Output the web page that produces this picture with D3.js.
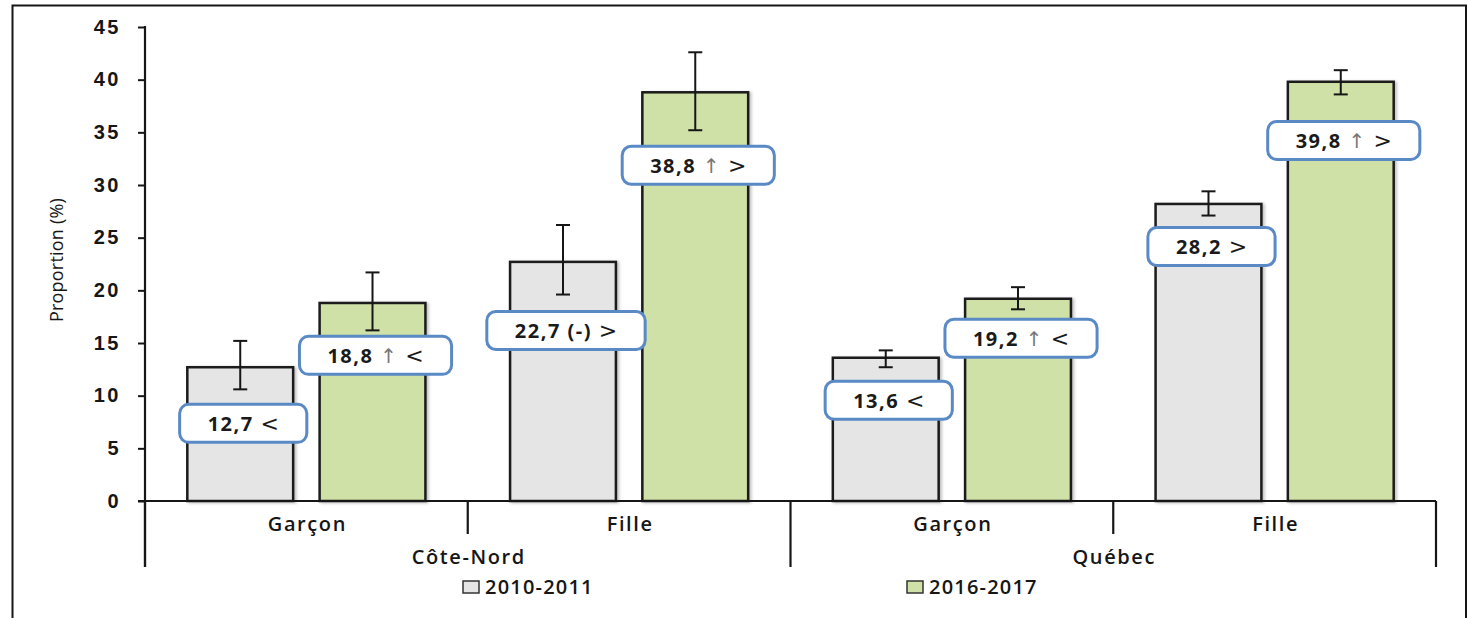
<!DOCTYPE html>
<html>
<head>
<meta charset="utf-8">
<script src="https://cdn.jsdelivr.net/npm/d3@7"></script>
<style>
  html, body { margin: 0; padding: 0; background: #fff; }
  svg { display: block; font-family: "Open Sans", Lato, sans-serif; }
</style>
</head>
<body>
<svg id="chart" width="1468" height="618"></svg>
<script>
// Regions, sexes and survey periods
const regions = ["Côte-Nord", "Québec"];
const sexes = ["Garçon", "Fille"];
const periods = ["2010-2011", "2016-2017"];

// Proportions (%) per region × sex, one array per period
const values2010 = [12.7, 22.7, 13.6, 28.2];
const values2016 = [18.8, 38.8, 19.2, 39.8];

// Confidence intervals
const low2010  = [10.6, 19.6, 12.7, 27.1];
const high2010 = [15.2, 26.2, 14.3, 29.4];
const low2016  = [16.2, 35.2, 18.2, 38.6];
const high2016 = [21.7, 42.6, 20.3, 40.9];

// Data label texts
const labels2010 = ["12,7 <", "22,7 (-) >", "13,6 <", "28,2 >"];
const labels2016 = ["18,8 ↑ <", "38,8 ↑ >", "19,2 ↑ <", "39,8 ↑ >"];

const yTicks = [0, 5, 10, 15, 20, 25, 30, 35, 40, 45];

// Layout: vertical gap (px) between the lower whisker and the label box
const labelGap2010 = [15, 17, 14, 12];
const labelGap2016 = [6, 16, 10, 27];

const svg = d3.select("#chart");
const plotLeft = 145, plotRight = 1436, plotTop = 27, plotBase = 501;

const cats = d3.range(regions.length * sexes.length);
const x0 = d3.scaleBand().domain(cats).range([plotLeft, plotRight]).padding(0);
const x1 = d3.scaleBand().domain(periods).range([0, x0.bandwidth()])
  .paddingInner(0.2).paddingOuter(0.32);
const y = d3.scaleLinear().domain([0, 45]).range([plotBase, plotTop]);

const fills = { "2010-2011": "#e5e5e5", "2016-2017": "#cfe1a6" };
const ink = "#161616";

// Outer frame
svg.append("path")
  .attr("d", "M12.5,620 V5.5 H1466 V620")
  .attr("fill", "none").attr("stroke", ink).attr("stroke-width", 2);

// Soft shadow for bars
const defs = svg.append("defs");
const f = defs.append("filter").attr("id", "shadow")
  .attr("x", "-10%").attr("y", "-10%").attr("width", "130%").attr("height", "130%");
f.append("feDropShadow").attr("dx", 2).attr("dy", 1).attr("stdDeviation", 1.5)
  .attr("flood-color", "#000").attr("flood-opacity", 0.25);

// Y axis
const yAxis = d3.axisLeft(y).tickValues(yTicks).tickSize(7).tickPadding(17)
  .tickFormat(d3.format("d"));
const gy = svg.append("g").attr("transform", `translate(${plotLeft},0)`).call(yAxis);
gy.select(".domain").remove();
gy.selectAll(".tick line").attr("stroke", ink).attr("stroke-width", 2);
gy.selectAll(".tick text").attr("font-size", 20).attr("font-weight", 600)
  .attr("letter-spacing", 2.5).attr("fill", ink).attr("dy", "0.3em");
svg.append("line").attr("x1", plotLeft).attr("x2", plotLeft)
  .attr("y1", y(45) - 1).attr("y2", 567)
  .attr("stroke", ink).attr("stroke-width", 2.2);

svg.append("text")
  .attr("transform", `translate(63,${(plotTop + plotBase) / 2 - 4}) rotate(-90)`)
  .attr("text-anchor", "middle").attr("font-size", 18).attr("fill", ink)
  .attr("letter-spacing", 0.2)
  .text("Proportion (%)");

// Rows of series
const series = [
  { period: periods[0], values: values2010, low: low2010, high: high2010, labels: labels2010, gap: labelGap2010 },
  { period: periods[1], values: values2016, low: low2016, high: high2016, labels: labels2016, gap: labelGap2016 }
];

const barsG = svg.append("g");
series.forEach(s => {
  cats.forEach(i => {
    const bx = x0(i) + x1(s.period);
    barsG.append("rect")
      .attr("x", bx).attr("y", y(s.values[i]))
      .attr("width", x1.bandwidth()).attr("height", y(0) - y(s.values[i]))
      .attr("fill", fills[s.period]).attr("stroke", "#1a1a1a").attr("stroke-width", 2.5)
      .attr("filter", "url(#shadow)");
  });
});

// X axis baseline and category separators
svg.append("line").attr("x1", plotLeft - 7).attr("x2", plotRight)
  .attr("y1", plotBase).attr("y2", plotBase).attr("stroke", ink).attr("stroke-width", 2.2);

const edges = cats.map(i => x0(i)).concat([plotRight]);
edges.forEach((ex, k) => {
  const long = (k % sexes.length === 0);
  svg.append("line").attr("x1", ex).attr("x2", ex)
    .attr("y1", plotBase).attr("y2", long ? 567 : 534)
    .attr("stroke", ink).attr("stroke-width", 2.2);
});

cats.forEach(i => {
  svg.append("text")
    .attr("x", x0(i) + x0.bandwidth() / 2 + 1).attr("y", 531)
    .attr("text-anchor", "middle").attr("font-size", 20).attr("font-weight", 600)
    .attr("letter-spacing", 1.6).attr("fill", ink).text(sexes[i % sexes.length]);
});
regions.forEach((r, k) => {
  const a = x0(k * sexes.length), b = x0(k * sexes.length + sexes.length - 1) + x0.bandwidth();
  svg.append("text")
    .attr("x", (a + b) / 2 + 1).attr("y", 564)
    .attr("text-anchor", "middle").attr("font-size", 20).attr("font-weight", 600)
    .attr("letter-spacing", 1.6).attr("fill", ink).text(r);
});

// Error bars
series.forEach(s => {
  cats.forEach(i => {
    const cx = x0(i) + x1(s.period) + x1.bandwidth() / 2;
    const g = svg.append("g").attr("stroke", ink).attr("stroke-width", 2);
    g.append("line").attr("x1", cx).attr("x2", cx).attr("y1", y(s.high[i])).attr("y2", y(s.low[i]));
    [s.high[i], s.low[i]].forEach(v => {
      g.append("line").attr("x1", cx - 7).attr("x2", cx + 7).attr("y1", y(v)).attr("y2", y(v));
    });
  });
});

// Data label boxes: numbers in bold, arrow and comparison sign in a lighter face
series.forEach(s => {
  cats.forEach(i => {
    const cx = x0(i) + x1(s.period) + x1.bandwidth() / 2 + 3;
    const boxTop = y(s.low[i]) + s.gap[i];
    const g = svg.append("g");
    const rect = g.append("rect");
    const t = g.append("text")
      .attr("x", cx).attr("y", boxTop + 26.5)
      .attr("text-anchor", "middle").attr("font-size", 20).attr("font-weight", 700)
      .attr("letter-spacing", 1.5).attr("fill", "#1a1a1a");
    s.labels[i].split(/([↑<>])/).filter(p => p.length).forEach(p => {
      const ts = t.append("tspan").text(p);
      if (p === "↑") {
        ts.attr("font-family", "DejaVu Sans").attr("font-weight", 400)
          .attr("fill", "#777").attr("font-size", 20);
      } else if (p === "<" || p === ">") {
        ts.attr("font-family", "DejaVu Sans").attr("font-weight", 400)
          .attr("font-size", 22).attr("letter-spacing", 0);
      }
    });
    const w = t.node().getComputedTextLength() + 56;
    rect.attr("x", cx - w / 2).attr("y", boxTop).attr("width", w).attr("height", 38)
      .attr("rx", 9).attr("fill", "#fff").attr("stroke", "#5a8ac6").attr("stroke-width", 3);
  });
});

// Legend
const legendX = [463, 907];
periods.forEach((p, k) => {
  svg.append("rect").attr("x", legendX[k]).attr("y", 581).attr("width", 16).attr("height", 12)
    .attr("fill", fills[p]).attr("stroke", "#333").attr("stroke-width", 1.5);
  svg.append("text").attr("x", legendX[k] + 22).attr("y", 594)
    .attr("font-size", 20).attr("font-weight", 600).attr("letter-spacing", 1.2)
    .attr("fill", ink).text(p);
});
</script>
</body>
</html>
